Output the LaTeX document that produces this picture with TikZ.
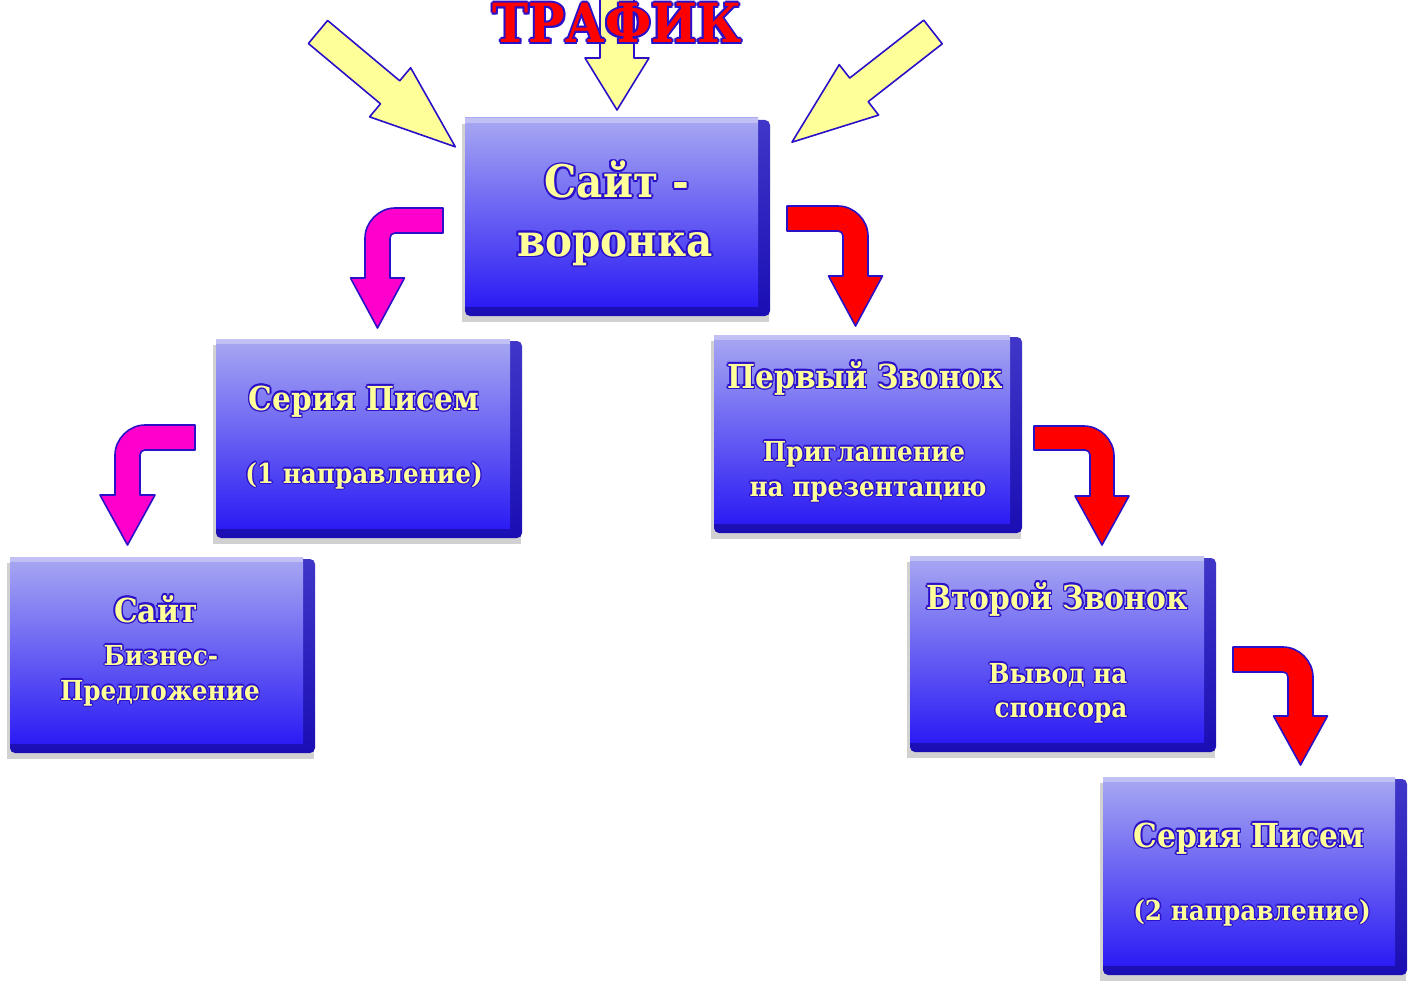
\documentclass[tikz,border=0pt]{standalone}
\usepackage{fontspec}
\setmainfont{DejaVu Serif}[FakeStretch=0.9]
\definecolor{txtY}{HTML}{FFFF99}
\definecolor{olB}{HTML}{2A10C8}
\definecolor{arrY}{HTML}{FFFF99}
\definecolor{arrR}{HTML}{FF0000}
\definecolor{arrM}{HTML}{FF00CC}
\definecolor{faceT}{HTML}{A8A8F2}
\definecolor{faceM}{HTML}{7470F2}
\definecolor{faceB}{HTML}{2C1CF4}
\definecolor{edgeT}{HTML}{4036C8}
\definecolor{edgeB}{HTML}{1A0EB4}
\newsavebox\olbox
\newlength\olw
\newcommand\olcp[2]{\rlap{\kern#1\olw\raise#2\olw\copy\olbox}}
\newcommand\outl[4]{\setlength\olw{#1}\setbox\olbox=\hbox{#4}%
 {\color{#2}\olcp{1}{0}\olcp{-1}{0}\olcp{0}{1}\olcp{0}{-1}\olcp{0.71}{0.71}\olcp{-0.71}{0.71}\olcp{0.71}{-0.71}\olcp{-0.71}{-0.71}}%
 {\color{#3}\copy\olbox}}
\newcommand\fBig{\fontsize{45}{50}\selectfont\bfseries}
\newcommand\fMid{\fontsize{33}{38}\selectfont\bfseries}
\newcommand\fSml{\fontsize{27.5}{32}\selectfont\bfseries}
\newcommand\fTtl{\fontsize{54}{60}\selectfont\bfseries}
\newcommand\yB[1]{\outl{1.8pt}{olB}{txtY}{#1}}
\newcommand\yM[1]{\outl{1.5pt}{olB}{txtY}{#1}}
\newcommand\yS[1]{\outl{1.3pt}{olB}{txtY}{#1}}
\tikzset{
 lbl/.style={inner sep=0pt, anchor=base},
 face/.style={inner sep=0pt, outer sep=0pt, anchor=north west, top color=faceT, middle color=faceM, bottom color=faceB},
 edgebox/.style={top color=edgeT, bottom color=edgeB, rounded corners=5pt},
 yarr/.style={fill=arrY, draw=olB, line width=1.6pt, line join=round},
 rarr/.style={fill=arrR, draw=olB, line width=1.6pt, line join=round},
 marr/.style={fill=arrM, draw=olB, line width=1.6pt, line join=round}
}
% panel: name, x1, y1, x2, y2
\newcommand\panel[5]{%
 \fill[black, opacity=0.18] ({#2-3},{#3+6}) rectangle ({#4-1},{#5+6});
 \path[edgebox] (#2,{#3+2}) rectangle (#4,#5);
 \node[face, minimum width={#4-#2-12}, minimum height={#5-#3-10}] (#1) at (#2,#3) {};
 \fill[white, opacity=0.3] (#2,#3) rectangle ({#4-12},{#3+5});
}
% red bent arrow (turns right): xl, yt, t, xv, yh, hw, ytip
\newcommand\rbend[7]{%
 \draw[rarr] (#1,#2) -- ({#4+#3-30},#2) .. controls ({#4+#3-14},#2) and ({#4+#3},{#2+14}) .. ({#4+#3},{#2+30})
  -- ({#4+#3},#5) -- ({#4+#3/2+#6},#5) -- ({#4+#3/2},#7) -- ({#4+#3/2-#6},#5) -- (#4,#5)
  -- (#4,{#2+#3+5}) .. controls (#4,{#2+#3+2}) and ({#4-2},{#2+#3}) .. ({#4-5},{#2+#3}) -- (#1,{#2+#3}) -- cycle;}
% magenta bent arrow (turns left): xr, yt, t, xv, yh, hw, ytip
\newcommand\lbend[7]{%
 \draw[marr] (#1,#2) -- ({#4+30},#2) .. controls ({#4+14},#2) and (#4,{#2+14}) .. (#4,{#2+30})
  -- (#4,#5) -- ({#4+#3/2-#6},#5) -- ({#4+#3/2},#7) -- ({#4+#3/2+#6},#5) -- ({#4+#3},#5)
  -- ({#4+#3},{#2+#3+5}) .. controls ({#4+#3},{#2+#3+2}) and ({#4+#3+2},{#2+#3}) .. ({#4+#3+5},{#2+#3}) -- (#1,{#2+#3}) -- cycle;}
\begin{document}
\begin{tikzpicture}[x=1pt, y=-1pt]
\useasboundingbox (0,0) rectangle (1413,987);
\fill[white] (0,0) rectangle (1413,987);
% yellow arrows
\begin{scope}[shift={(617,-10)}, rotate=-90]
 \draw[yarr] (0,-17) -- (68,-17) -- (68,-32) -- (120,0) -- (68,32) -- (68,17) -- (0,17) -- cycle;
\end{scope}
\begin{scope}[shift={(318,32)}, rotate=-39.9]
 \draw[yarr] (0,-15) -- (94,-15) -- (94,-32) -- (179,0) -- (94,32) -- (94,15) -- (0,15) -- cycle;
\end{scope}
\begin{scope}[shift={(933,32)}, rotate=-142]
 \draw[yarr] (0,-15) -- (94,-15) -- (94,-32) -- (179,0) -- (94,32) -- (94,15) -- (0,15) -- cycle;
\end{scope}
\node[lbl, font=\fTtl] (title) at (617,43) {\outl{2pt}{olB}{arrR}{ТРАФИК}};
% panels
\panel{b0}{465}{118}{770}{316}
\panel{b1}{216}{339}{522}{538}
\panel{b2}{714}{335}{1022}{533}
\panel{b3}{10}{557}{315}{753}
\panel{b4}{910}{556}{1216}{752}
\panel{b5}{1103}{777}{1407}{975}
% bent arrows
\lbend{443}{208}{25}{365}{278}{27}{328}
\lbend{195}{425}{25}{115}{495}{27.5}{545}
\rbend{787}{206}{25}{843}{276}{27}{326}
\rbend{1034}{426}{24}{1090}{496}{27}{545}
\rbend{1233}{647}{25}{1288}{716}{27}{765}
% texts
\node[lbl, font=\fBig] (t0a) at (617,198) {\yB{Сайт -}};
\node[lbl, font=\fBig] (t0b) at (615,256) {\yB{воронка}};
\node[lbl, font=\fMid] (t1a) at (364,410) {\yM{Серия Писем}};
\node[lbl, font=\fSml] (t1b) at (364,483) {\yS{(1 направление)}};
\node[lbl, font=\fMid] (t2a) at (865,388) {\yM{Первый Звонок}};
\node[lbl, font=\fSml] (t2b) at (864,461) {\yS{Приглашение}};
\node[lbl, font=\fSml] (t2c) at (868,496) {\yS{на презентацию}};
\node[lbl, font=\fMid] (t3a) at (156,622) {\yM{Сайт}};
\node[lbl, font=\fSml] (t3b) at (161,665) {\yS{Бизнес-}};
\node[lbl, font=\fSml] (t3c) at (160,700) {\yS{Предложение}};
\node[lbl, font=\fMid] (t4a) at (1057,609) {\yM{Второй Звонок}};
\node[lbl, font=\fSml] (t4b) at (1058,683) {\yS{Вывод на}};
\node[lbl, font=\fSml] (t4c) at (1061,717) {\yS{спонсора}};
\node[lbl, font=\fMid] (t5a) at (1249,847) {\yM{Серия Писем}};
\node[lbl, font=\fSml] (t5b) at (1252,920) {\yS{(2 направление)}};
\end{tikzpicture}
\end{document}
